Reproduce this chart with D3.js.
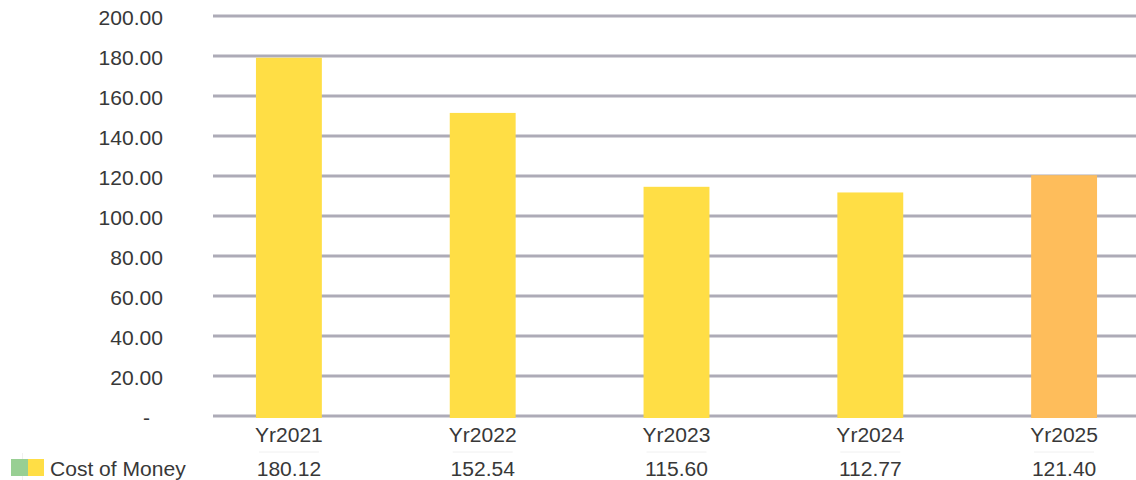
<!DOCTYPE html>
<html>
<head>
<meta charset="utf-8">
<script src="https://cdn.jsdelivr.net/npm/d3@7"></script>
<style>
  html, body { margin: 0; padding: 0; background: #fff; }
  svg { display: block; font-family: "Liberation Sans", Arial, sans-serif; }
</style>
</head>
<body>
<svg id="chart" width="1136" height="480"></svg>
<script>
// Cost of money by year
const categories = ["Yr2021", "Yr2022", "Yr2023", "Yr2024", "Yr2025"];
const costOfMoney = [180.12, 152.54, 115.60, 112.77, 121.40];
const barColors = ["#FFDE45", "#FFDE45", "#FFDE45", "#FFDE45", "#FEBD5B"];
const yTicks = [0, 20, 40, 60, 80, 100, 120, 140, 160, 180, 200];
const seriesName = "Cost of Money";

const svg = d3.select("#chart");

const plotLeft = 213, plotRight = 1136;
const y = d3.scaleLinear().domain([0, 200]).range([418, 18]);
const x = d3.scaleBand().domain(categories).range([192, 1161]).paddingInner(0.66).paddingOuter(0.33);

const FS = 19.5, STRETCH = 1.08;
// Text helper: slightly widened glyphs, anchored at (px, py)
function label(g, data, px, py, anchor, txt) {
  return g.selectAll("text").data(data).join("text")
    .attr("transform", (d, i) => `translate(${px(d, i)},${py(d, i)}) scale(${STRETCH},1)`)
    .attr("text-anchor", anchor)
    .attr("font-size", FS)
    .attr("fill", "#383838")
    .text(txt);
}

// Horizontal gridlines
svg.append("g").selectAll("line").data(yTicks).join("line")
  .attr("x1", plotLeft).attr("x2", plotRight)
  .attr("y1", d => y(d) - 2).attr("y2", d => y(d) - 2)
  .attr("stroke", "#ADABB7").attr("stroke-width", 3);

// Y axis tick labels
const fmt = d => d === 0 ? "-" : d3.format(".2f")(d);
label(svg.append("g"), yTicks, d => d === 0 ? 150 : 163, d => y(d) + 7, "end", fmt);

// Bars
svg.append("g").selectAll("rect").data(categories).join("rect")
  .attr("x", d => x(d))
  .attr("width", x.bandwidth())
  .attr("y", (d, i) => y(costOfMoney[i]))
  .attr("height", (d, i) => y(0) - y(costOfMoney[i]))
  .attr("fill", (d, i) => barColors[i]);

// Data table: category row and value row
const cx = d => x(d) + x.bandwidth() / 2;
label(svg.append("g"), categories, cx, () => 442, "middle", d => d);

svg.append("g").selectAll("line").data(categories).join("line")
  .attr("x1", d => cx(d) - 30).attr("x2", d => cx(d) + 30)
  .attr("y1", 452).attr("y2", 452)
  .attr("stroke", "#F0F0F0").attr("stroke-width", 1);

svg.append("line")
  .attr("x1", 22.5).attr("x2", 22.5).attr("y1", 453).attr("y2", 480)
  .attr("stroke", "#F0F0F0");

label(svg.append("g"), categories, cx, () => 476, "middle", (d, i) => d3.format(".2f")(costOfMoney[i]));

// Legend key
svg.append("rect").attr("x", 11).attr("y", 459).attr("width", 17).attr("height", 17).attr("fill", "#98CF93");
svg.append("rect").attr("x", 28).attr("y", 459).attr("width", 16).attr("height", 17).attr("fill", "#FFDE45");
label(svg.append("g"), [seriesName], () => 50, () => 476, "start", d => d);
</script>
</body>
</html>
